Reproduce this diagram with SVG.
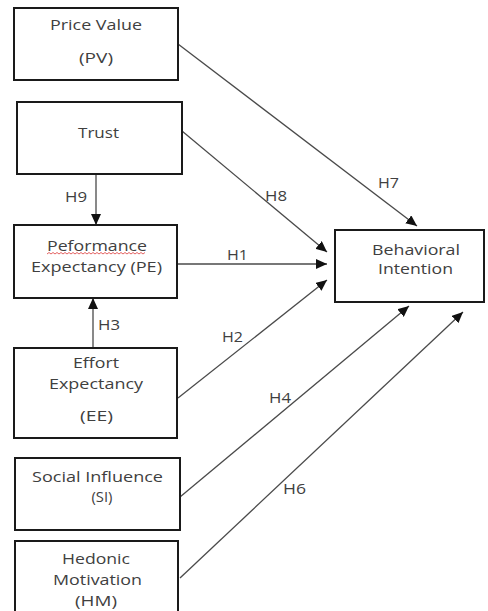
<svg xmlns="http://www.w3.org/2000/svg" width="488" height="611" viewBox="0 0 488 611">
<style>
.box{fill:#fff;stroke:#1a1a1a;stroke-width:2}
.t{font-family:"Open Sans","Liberation Sans",sans-serif;font-size:14px;fill:#404040;text-anchor:middle}
.c{stroke:#4a4a4a;stroke-width:1.3;fill:none;marker-end:url(#ah)}
.lbl{font-family:"Open Sans","Liberation Sans",sans-serif;font-size:14px;fill:#404040}
</style>
<defs>
<marker id="ah" markerUnits="userSpaceOnUse" markerWidth="12" markerHeight="10" refX="11" refY="5" orient="auto">
<path d="M0,0 L11,5 L0,10 Z" fill="#111"/>
</marker>
</defs>
<rect width="488" height="611" fill="#fff"/>
<g id="connectors">
<line class="c" x1="178" y1="44" x2="417" y2="226"/>
<line class="c" x1="182" y1="131" x2="327" y2="252"/>
<line class="c" x1="177" y1="264" x2="327" y2="264"/>
<line class="c" x1="178" y1="398" x2="327" y2="280"/>
<line class="c" x1="180" y1="497" x2="409" y2="306"/>
<line class="c" x1="180" y1="578" x2="463" y2="312"/>
<line class="c" x1="96" y1="174" x2="96" y2="225"/>
<line class="c" x1="93" y1="348" x2="93" y2="298"/>
<text class="lbl" x="65" y="202" textLength="22" lengthAdjust="spacingAndGlyphs">H9</text>
<text class="lbl" x="227" y="260" textLength="21" lengthAdjust="spacingAndGlyphs">H1</text>
<text class="lbl" x="98" y="330" textLength="22" lengthAdjust="spacingAndGlyphs">H3</text>
<text class="lbl" x="222" y="342" textLength="21" lengthAdjust="spacingAndGlyphs">H2</text>
<text class="lbl" x="378" y="188" textLength="21" lengthAdjust="spacingAndGlyphs">H7</text>
<text class="lbl" x="265" y="201" textLength="22" lengthAdjust="spacingAndGlyphs">H8</text>
<text class="lbl" x="269" y="403" textLength="22" lengthAdjust="spacingAndGlyphs">H4</text>
<text class="lbl" x="283" y="494" textLength="23" lengthAdjust="spacingAndGlyphs">H6</text>
</g>
<g id="pv">
<rect class="box" x="14" y="8" width="164" height="72"/>
<text class="t" x="96" y="30" textLength="92" lengthAdjust="spacingAndGlyphs">Price Value</text>
<text class="t" x="96" y="63" textLength="34" lengthAdjust="spacingAndGlyphs">(PV)</text>
</g>
<g id="trust">
<rect class="box" x="17" y="102" width="165" height="72"/>
<text class="t" x="98.5" y="138" textLength="41" lengthAdjust="spacingAndGlyphs">Trust</text>
</g>
<g id="pe">
<rect class="box" x="14" y="225" width="163" height="73"/>
<text class="t" x="97" y="251" textLength="100" lengthAdjust="spacingAndGlyphs">Peformance</text>
<path d="M47,254 l2,-1.5 l2,1.5 l2,-1.5 l2,1.5 l2,-1.5 l2,1.5 l2,-1.5 l2,1.5 l2,-1.5 l2,1.5 l2,-1.5 l2,1.5 l2,-1.5 l2,1.5 l2,-1.5 l2,1.5 l2,-1.5 l2,1.5 l2,-1.5 l2,1.5 l2,-1.5 l2,1.5 l2,-1.5 l2,1.5 l2,-1.5 l2,1.5 l2,-1.5 l2,1.5 l2,-1.5 l2,1.5 l2,-1.5 l2,1.5 l2,-1.5 l2,1.5 l2,-1.5 l2,1.5 l2,-1.5 l2,1.5 l2,-1.5 l2,1.5 l2,-1.5 l2,1.5 l2,-1.5 l2,1.5 l2,-1.5 l2,1.5 l2,-1.5 l2,1.5 l2,-1.5" fill="none" stroke="#e05050" stroke-width="0.9"/>
<text class="t" x="96.5" y="272" textLength="131" lengthAdjust="spacingAndGlyphs">Expectancy (PE)</text>
</g>
<g id="ee">
<rect class="box" x="14" y="348" width="163" height="90"/>
<text class="t" x="96" y="368" textLength="46" lengthAdjust="spacingAndGlyphs">Effort</text>
<text class="t" x="96" y="389" textLength="94" lengthAdjust="spacingAndGlyphs">Expectancy</text>
<text class="t" x="96.5" y="421" textLength="33" lengthAdjust="spacingAndGlyphs">(EE)</text>
</g>
<g id="si">
<rect class="box" x="15" y="458" width="165" height="72"/>
<text class="t" x="97.5" y="482" textLength="131" lengthAdjust="spacingAndGlyphs">Social Influence</text>
<text class="t" x="102" y="502" textLength="21" lengthAdjust="spacingAndGlyphs">(SI)</text>
</g>
<g id="hm">
<rect class="box" x="15" y="541" width="163" height="80"/>
<text class="t" x="96" y="564" textLength="68" lengthAdjust="spacingAndGlyphs">Hedonic</text>
<text class="t" x="97.5" y="585" textLength="89" lengthAdjust="spacingAndGlyphs">Motivation</text>
<text class="t" x="96" y="606" textLength="42" lengthAdjust="spacingAndGlyphs">(HM)</text>
</g>
<g id="bi">
<rect class="box" x="335" y="230" width="149" height="72"/>
<text class="t" x="416" y="255" textLength="88" lengthAdjust="spacingAndGlyphs">Behavioral</text>
<text class="t" x="415.5" y="274" textLength="75" lengthAdjust="spacingAndGlyphs">Intention</text>
</g>
</svg>
